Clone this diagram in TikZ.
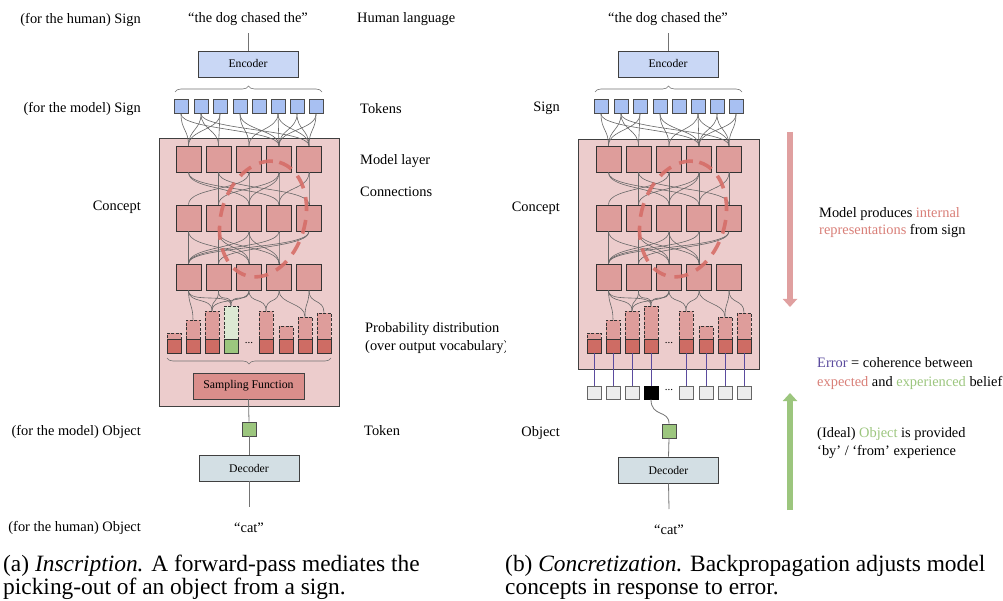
\documentclass[tikz,border=0pt]{standalone}
\usepackage{fontspec}
\setmainfont{Liberation Serif}
\usetikzlibrary{decorations.pathreplacing,arrows.meta}
\definecolor{pinkbg}{RGB}{236,204,204}
\definecolor{sqfill}{RGB}{222,157,155}
\definecolor{barlow}{RGB}{206,108,100}
\definecolor{tokblue}{RGB}{168,192,242}
\definecolor{encfill}{RGB}{201,215,245}
\definecolor{decfill}{RGB}{211,223,228}
\definecolor{greenc}{RGB}{156,198,126}
\definecolor{lightgreen}{RGB}{220,233,211}
\definecolor{sampfill}{RGB}{218,142,139}
\definecolor{arrpink}{RGB}{224,160,160}
\definecolor{purp}{RGB}{91,75,158}
\definecolor{salmon}{RGB}{217,127,120}
\definecolor{ellc}{RGB}{214,110,104}
\tikzset{
  lbl/.style={font=\fontsize{14.4}{17}\selectfont, inner sep=0pt, yshift=-1.5pt},
  sq/.style={draw=black!80, fill=sqfill, minimum width=25pt, minimum height=26pt, inner sep=0pt, line width=0.8pt},
  tok/.style={draw=black!70, fill=tokblue, minimum size=14pt, inner sep=0pt, line width=0.8pt},
  conn/.style={draw=black!60, line width=0.6pt},
  gline/.style={draw=black!55, line width=0.8pt},
  barup/.style={draw=black!80, dash pattern=on 3pt off 1.5pt, fill=sqfill, minimum width=14pt, inner sep=0pt, line width=0.8pt},
  barlo/.style={draw=black!80, fill=barlow, minimum width=14pt, minimum height=14pt, inner sep=0pt, line width=0.8pt},
  boxsm/.style={draw=black!75, line width=0.8pt, minimum width=100pt, minimum height=26pt, inner sep=0pt, font=\fontsize{11.7}{14}\selectfont},
  brc/.style={draw=black!55, line width=0.6pt, decorate, decoration={brace, amplitude=6pt}},
  ell/.style={draw=ellc, opacity=0.9, line width=3.6pt, dash pattern=on 14pt off 9pt},
  outsq/.style={draw=black!60, fill=black!7, minimum width=14pt, minimum height=13pt, inner sep=0pt, line width=0.8pt},
  bigarrow/.style={line width=6pt, -{Triangle[width=14pt,length=8pt]}},
  captxt/.style={font=\fontsize{23.4}{24}\selectfont, inner sep=0pt, anchor=base west},
  dotsl/.style={font=\fontsize{11}{12}\selectfont, inner sep=0pt}
}
\newcommand\drawpanel[4]{%
\begin{scope}[shift={(#2,0)}]
  \node[lbl] (#1q) at (248,18) {“the dog chased the”};
  \node[boxsm, fill=encfill] (#1enc) at (248,64) {Encoder};
  \draw[gline, shorten <=7pt] (#1q.south) -- (#1enc.north);
  \draw[brc] (175,92) -- (322,92);
  \foreach \i/\x in {1/181,2/201,3/220,4/240,5/259,6/278,7/297,8/316}
    \node[tok] (#1t\i) at (\x,106.5) {};
  \foreach \i/\x in {1/188.5,2/218.5,3/249,4/279,5/309} {
    \node[sq] (#1a\i) at (\x,159) {};
    \node[sq] (#1b\i) at (\x,218) {};
    \node[sq] (#1c\i) at (\x,277) {};
  }
  \foreach \i/\x/\h in {1/174/6,2/193/19,3/212/28,5/266/28,6/286/13,7/305/22,8/324/26} {
    \node[barup, minimum height={\h pt}] (#1p\i) at (\x,{339-\h/2}) {};
    \node[barlo] (#1r\i) at (\x,346) {};
  }
  \node[barup, fill=#3, minimum height=33pt] (#1p4) at (231,322.5) {};
  \node[barlo, fill=#4] (#1r4) at (231,346) {};
  \node[dotsl] (#1dots) at (249,343) {...};
  % tokens -> layer 1
  \foreach \a/\b in {1/1,1/4,2/1,2/2,2/5,3/1,3/2,4/3,4/4,6/3,6/4,6/5,7/4,7/5,8/5,8/4}
    \draw[conn] (#1t\a.south) .. controls +(0,16) and +(0,-16) .. (#1a\b.north);
  % layer 1 -> layer 2
  \foreach \a/\b in {1/3,1/4,2/2,2/5,3/3,3/1,4/3,4/4,4/2,5/5,5/4}
    \draw[conn] (#1a\a.south) .. controls +(0,18) and +(0,-18) .. (#1b\b.north);
  % layer 2 -> layer 3
  \foreach \a/\b in {1/1,1/3,2/2,2/4,2/3,3/1,3/3,3/4,4/1,4/4,5/1,5/2}
    \draw[conn] (#1b\a.south) .. controls +(0,18) and +(0,-18) .. (#1c\b.north);
  % layer 3 -> bars
  \foreach \a/\b in {1/2,1/3,1/4,2/3,2/4,3/4,3/3,3/5,4/5,4/7,5/7,5/8}
    \draw[conn] (#1c\a.south) .. controls +(0,14) and +(0,-14) .. (#1p\b.north);
  \begin{scope}[shift={(263,219)},rotate=74]
    \draw[ell] (0,0) ellipse [x radius=59, y radius=42];
  \end{scope}
\end{scope}}
\begin{document}
\begin{tikzpicture}[x=1pt,y=-1pt]
\useasboundingbox (0,0) rectangle (1003,601);
\fill[white] (0,0) rectangle (1003,601);
% background rectangles
\draw[draw=black!75, fill=pinkbg, line width=0.9pt] (159,138) rectangle (339,406);
\draw[draw=black!75, fill=pinkbg, line width=0.9pt] (578,139) rectangle (759,369);
\drawpanel{L}{0}{lightgreen}{greenc}
\drawpanel{R}{420}{sqfill}{barlow}
% ----- left panel extras
\draw[brc] (331,358) -- (167,358);
\node[boxsm, fill=sampfill, minimum width=111pt, font=\fontsize{11.8}{14}\selectfont] (samp) at (248.5,386) {Sampling Function};
\node[tok, fill=greenc] (ltok) at (249,429) {};
\node[boxsm, fill=decfill] (ldec) at (249,468) {Decoder};
\coordinate (lend) at (249,507);
\draw[gline] (samp.south) -- (ltok.north);
\draw[gline] (ltok.south) -- (ldec.north);
\draw[gline] (ldec.south) -- (lend);
\node[lbl] (lcat) at (249,526) {“cat”};
% left labels
\node[lbl, anchor=east] (l1) at (141,18) {(for the human) Sign};
\node[lbl, anchor=east] (l2) at (141,107) {(for the model) Sign};
\node[lbl, anchor=east] (l3) at (141,206) {Concept};
\node[lbl, anchor=east] (l4) at (141,430) {(for the model) Object};
\node[lbl, anchor=east] (l5) at (141,526) {(for the human) Object};
\node[lbl, anchor=west] (m1) at (357,18) {Human language};
\node[lbl, anchor=west] (m2) at (360,107) {Tokens};
\node[lbl, anchor=west] (m3) at (360,160) {Model layer};
\node[lbl, anchor=west] (m4) at (360,190) {Connections};
\node[lbl, anchor=west] (m5) at (365,328) {Probability distribution};
\begin{scope}
  \clip (0,0) rectangle (505,601);
  \node[lbl, anchor=west] (m6) at (365,346) {(over output vocabulary)};
\end{scope}
\node[lbl, anchor=west] (m7) at (364,429) {Token};
% ----- right panel extras
\foreach \i/\x in {1/594,2/613,3/632,5/686,6/706,7/725,8/744} {
  \node[outsq] (o\i) at (\x,392.5) {};
  \draw[purp, line width=0.8pt] (Rr\i.south) -- (o\i.north);
}
\node[outsq, fill=black, draw=black] (o4) at (651,392.5) {};
\draw[purp, line width=0.8pt] (Rr4.south) -- (o4.north);
\node[dotsl] (odots) at (669,390) {...};
\node[tok, fill=greenc] (rtok) at (669,431) {};
\node[boxsm, fill=decfill] (rdec) at (668.5,470) {Decoder};
\coordinate (rend) at (669,509);
\draw[gline] (o4.south) .. controls +(0,18) and +(0,-14) .. (rtok.north);
\draw[gline] (rtok.south) -- (rdec.north);
\draw[gline] (rdec.south) -- (rend);
\node[lbl] (rcat) at (669,528) {“cat”};
\node[lbl, anchor=east] (r1) at (560,107) {Sign};
\node[lbl, anchor=east] (r2) at (560,207) {Concept};
\node[lbl, anchor=east] (r3) at (560,432) {Object};
% arrows
\coordinate (pa1) at (790,132);
\coordinate (pa2) at (790,307);
\draw[bigarrow, arrpink] (pa1) -- (pa2);
\coordinate (ga1) at (790,510);
\coordinate (ga2) at (790,393);
\draw[bigarrow, greenc] (ga1) -- (ga2);
\node[lbl, anchor=west, align=left, font=\fontsize{14.4}{17.5}\selectfont] (t1) at (819,221)
  {Model produces \textcolor{salmon}{internal}\\\textcolor{salmon}{representations} from sign};
\node[lbl, anchor=west, align=left, font=\fontsize{14.4}{18.5}\selectfont] (t2) at (817,372)
  {\textcolor{purp}{Error} = coherence between\\\textcolor{salmon}{expected} and \textcolor{greenc}{experienced} belief};
\node[lbl, anchor=west, align=left, font=\fontsize{14.4}{18}\selectfont] (t3) at (817,442)
  {(Ideal) \textcolor{greenc}{Object} is provided\\‘by’ / ‘from’ experience};
% captions
\node[captxt] (ca1) at (3,571) {(a) \textit{Inscription.} A forward-pass mediates the};
\node[captxt] (ca2) at (3,594.5) {picking-out of an object from a sign.};
\node[captxt] (cb1) at (505,571) {(b) \textit{Concretization.} Backpropagation adjusts model};
\node[captxt] (cb2) at (505,594.5) {concepts in response to error.};
\end{tikzpicture}
\end{document}
